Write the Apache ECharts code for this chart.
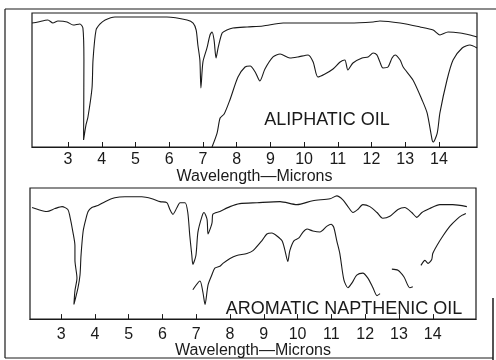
<!DOCTYPE html>
<html>
<head>
<meta charset="utf-8">
<script src="https://cdn.jsdelivr.net/npm/echarts@6/dist/echarts.min.js"></script>
<style>
  html, body { margin: 0; padding: 0; background: #fff; }
  #chart { width: 496px; height: 360px; }
</style>
</head>
<body>
<div id="chart"></div>
<script>
// wavelength tick labels (microns)
var tickValues = [3, 4, 5, 6, 7, 8, 9, 10, 11, 12, 13, 14];

// aliphatic oil panel: [wavelength, % transmission]
var aliphaticThin = [
  [1.93, 92.5], [2.11, 93.3], [2.40, 94.8], [2.55, 92.5], [2.70, 94.0], [2.97, 93.3],
  [3.15, 91.0], [3.35, 91.8], [3.44, 88.8], [3.47, 64.9], [3.46, 5.2], [3.53, 16.4],
  [3.59, 22.4], [3.71, 44.0], [3.74, 64.9], [3.83, 87.3], [3.95, 91.8], [4.10, 94.8],
  [4.39, 97.0], [5.13, 97.0], [5.93, 97.0], [6.53, 94.8], [6.71, 92.5], [6.80, 87.3],
  [6.85, 76.1], [6.91, 64.9], [6.94, 44.0], [7.00, 63.4], [7.12, 73.9], [7.21, 83.6],
  [7.27, 85.8], [7.33, 79.9], [7.39, 66.4], [7.45, 73.9], [7.57, 85.1], [7.71, 87.3],
  [7.89, 88.8], [8.31, 89.6], [8.78, 90.3], [9.38, 92.5], [10.56, 92.5], [11.36, 92.5],
  [12.05, 93.3], [12.25, 94.0], [12.85, 92.5], [13.44, 89.6], [13.83, 87.3], [14.03, 83.6],
  [14.27, 85.8], [14.63, 85.1], [14.92, 83.6], [15.13, 82.1]
];
var aliphaticThick = [
  [7.27, 0], [7.42, 10.4], [7.51, 21.6], [7.63, 24.6], [7.80, 35.1], [8.04, 52.2],
  [8.25, 59.7], [8.40, 60.4], [8.55, 56.0], [8.69, 49.3], [8.84, 58.2], [9.08, 67.2],
  [9.29, 69.4], [9.58, 66.4], [9.82, 67.2], [10.12, 68.7], [10.27, 63.4], [10.41, 52.2],
  [10.62, 54.5], [10.86, 58.2], [11.07, 63.4], [11.21, 64.9], [11.30, 57.5], [11.45, 62.7],
  [11.72, 66.4], [11.90, 67.2], [12.05, 70.1], [12.16, 68.7], [12.25, 63.4], [12.34, 59.0],
  [12.49, 59.7], [12.61, 66.4], [12.70, 68.7], [12.85, 64.9], [12.94, 59.7], [13.23, 50.0],
  [13.50, 35.1], [13.65, 25.4], [13.80, 5.2], [13.83, 3.7], [13.95, 10.4], [14.03, 25.4],
  [14.24, 50.0], [14.42, 64.9], [14.69, 73.9], [14.92, 76.1], [15.13, 73.9]
];

// aromatic napthenic oil panel
var aromaticThin = [
  [2.14, 85.1], [2.32, 83.6], [2.58, 82.1], [2.82, 84.3], [3.03, 85.8], [3.20, 83.6],
  [3.26, 78.4], [3.35, 66.4], [3.41, 56.0], [3.41, 44.8], [3.47, 31.3], [3.41, 21.6],
  [3.38, 11.2], [3.50, 23.9], [3.56, 33.6], [3.59, 48.5], [3.65, 66.4], [3.71, 73.9],
  [3.80, 82.1], [3.91, 85.1], [4.09, 86.6], [4.30, 89.6], [4.59, 92.5], [4.89, 93.3],
  [5.39, 93.3], [5.69, 91.8], [5.93, 89.6], [6.13, 88.8], [6.22, 83.6], [6.31, 79.9],
  [6.43, 85.1], [6.52, 88.8], [6.67, 88.8], [6.75, 81.3], [6.81, 63.4], [6.87, 48.5],
  [6.90, 41.8], [6.99, 48.5], [7.05, 66.4], [7.17, 78.4], [7.23, 81.3], [7.32, 76.1],
  [7.35, 64.9], [7.44, 70.9], [7.47, 73.9], [7.49, 79.9], [7.70, 82.1], [8.00, 85.8],
  [8.29, 88.1], [8.80, 88.8], [9.48, 89.6], [9.98, 87.3], [10.45, 90.3], [10.96, 91.8],
  [11.16, 94.0], [11.34, 91.0], [11.49, 85.8], [11.64, 81.3], [11.78, 83.6], [11.93, 87.3],
  [12.14, 85.8], [12.35, 81.3], [12.52, 76.9], [12.73, 78.4], [12.97, 83.6], [13.17, 85.1],
  [13.38, 81.3], [13.53, 77.6], [13.68, 81.3], [13.91, 84.3], [14.21, 87.3], [14.59, 87.3],
  [15.01, 85.8]
];
var aromaticThick = [
  [6.90, 22.4], [7.11, 29.1], [7.20, 20.1], [7.26, 11.2], [7.35, 26.1], [7.46, 33.6],
  [7.55, 38.8], [7.70, 40.3], [7.79, 42.5], [8.00, 46.3], [8.20, 48.5], [8.50, 50.0],
  [8.68, 52.2], [8.94, 59.7], [9.09, 64.9], [9.24, 65.7], [9.39, 63.4], [9.54, 59.7],
  [9.62, 53.0], [9.71, 44.0], [9.77, 52.2], [9.89, 59.7], [10.04, 61.9], [10.16, 66.4],
  [10.28, 68.7], [10.45, 67.2], [10.66, 66.4], [10.87, 70.9], [10.99, 72.4], [11.07, 70.1],
  [11.16, 59.7], [11.25, 50.0], [11.37, 29.9], [11.49, 23.9], [11.61, 27.6], [11.75, 33.6],
  [11.93, 35.1], [12.08, 31.3], [12.23, 23.9], [12.35, 17.9], [12.44, 19.4], [12.6, '-'],
  [12.79, 38.1], [12.97, 37.3], [13.15, 32.1], [13.32, 23.9], [13.41, 24.6], [13.5, '-'],
  [13.65, 41.0], [13.77, 44.8], [13.86, 42.5], [13.97, 45.5], [14.00, 50.0], [14.12, 56.0],
  [14.30, 63.4], [14.51, 70.9], [14.71, 76.1], [14.86, 79.1], [14.98, 80.6]
];

var ink = '#1a1a1a';
var font = '"Liberation Sans", Arial, sans-serif';

function makeXAxis(idx, min, max, labelMargin, nameGap) {
  return {
    type: 'value',
    gridIndex: idx,
    min: min,
    max: max,
    name: 'Wavelength\u2014Microns',
    nameLocation: 'middle',
    nameGap: nameGap,
    nameTextStyle: { color: ink, fontSize: 16, fontFamily: font },
    axisLine: { show: true, lineStyle: { color: ink, width: 1.2 } },
    axisTick: { show: true, inside: true, length: 5, customValues: tickValues, lineStyle: { color: ink } },
    axisLabel: { customValues: tickValues, color: ink, fontSize: 16, fontFamily: font, margin: labelMargin },
    splitLine: { show: false }
  };
}

function makeYAxis(idx) {
  return { type: 'value', gridIndex: idx, min: 0, max: 100, show: false, splitLine: { show: false } };
}

function spectrum(data, idx) {
  return {
    type: 'line',
    xAxisIndex: idx,
    yAxisIndex: idx,
    data: data,
    showSymbol: false,
    smooth: 0.25,
    connectNulls: false,
    lineStyle: { color: ink, width: 1.1 },
    silent: true
  };
}

var chart = echarts.init(document.getElementById('chart'));
chart.setOption({
  animation: false,
  backgroundColor: '#fff',
  grid: [
    { left: 32, top: 13, width: 445, height: 134, show: true, borderColor: ink, borderWidth: 1.2 },
    { left: 30, top: 188, width: 446, height: 134, show: true, borderColor: ink, borderWidth: 1.2 }
  ],
  xAxis: [makeXAxis(0, 1.93, 15.13, 5, 19), makeXAxis(1, 2.08, 15.28, 7, 23)],
  yAxis: [makeYAxis(0), makeYAxis(1)],
  series: [
    spectrum(aliphaticThin, 0),
    spectrum(aliphaticThick, 0),
    spectrum(aromaticThin, 1),
    spectrum(aromaticThick, 1)
  ],
  graphic: [
    { type: 'line', shape: { x1: 5, y1: 9, x2: 496, y2: 9 }, style: { stroke: ink, lineWidth: 1.2 } },
    { type: 'line', shape: { x1: 5, y1: 9, x2: 5, y2: 358 }, style: { stroke: ink, lineWidth: 1.2 } },
    { type: 'line', shape: { x1: 5, y1: 358, x2: 493, y2: 358 }, style: { stroke: ink, lineWidth: 1 } },
    { type: 'line', shape: { x1: 493, y1: 298, x2: 493, y2: 360 }, style: { stroke: ink, lineWidth: 1.5 } },
    {
      type: 'text', x: 327, y: 120,
      style: { text: 'ALIPHATIC OIL', fill: ink, fontSize: 18, fontFamily: font, align: 'center', verticalAlign: 'middle' }
    },
    {
      type: 'text', x: 344, y: 309,
      style: { text: 'AROMATIC NAPTHENIC OIL', fill: ink, fontSize: 18, fontFamily: font, align: 'center', verticalAlign: 'middle' }
    }
  ]
});
</script>
</body>
</html>
